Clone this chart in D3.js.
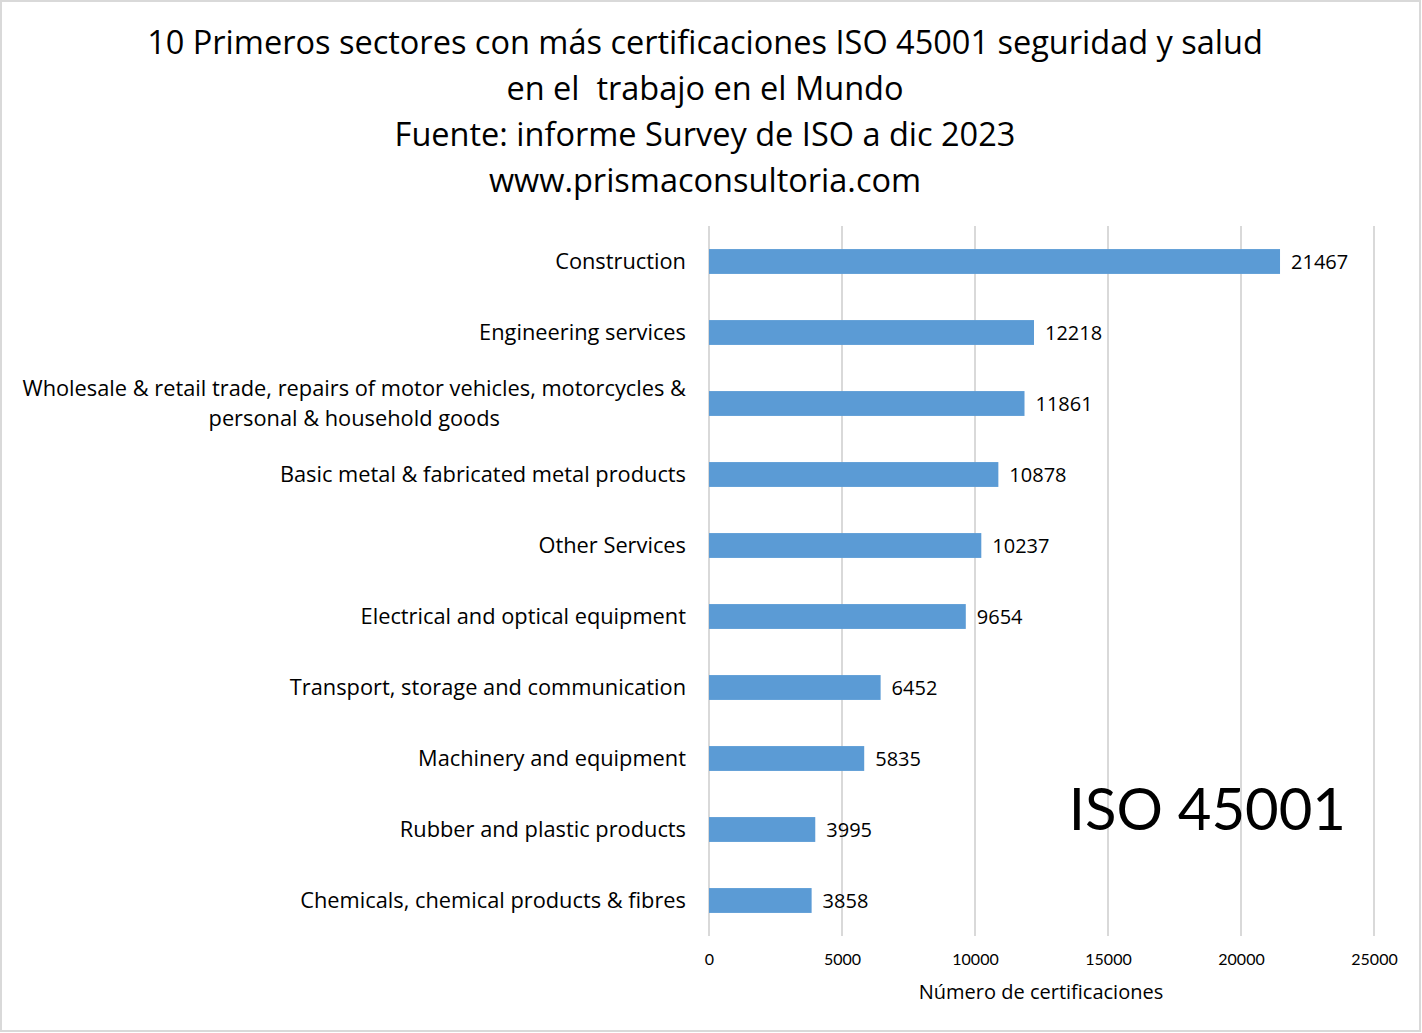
<!DOCTYPE html>
<html>
<head>
<meta charset="utf-8">
<script src="https://cdn.jsdelivr.net/npm/d3@7"></script>
<style>
  body { margin: 0; background: #fff; }
  svg { display: block; font-family: "Open Sans", Lato, sans-serif; }
  .title { white-space: pre; }
</style>
</head>
<body>
<div id="chart"></div>
<script>
// Chart data
var sectors = [
  "Construction",
  "Engineering services",
  "Wholesale & retail trade, repairs of motor vehicles, motorcycles &|personal & household goods",
  "Basic metal & fabricated metal products",
  "Other Services",
  "Electrical and optical equipment",
  "Transport, storage and communication",
  "Machinery and equipment",
  "Rubber and plastic products",
  "Chemicals, chemical products & fibres"
];
var certificates = [21467, 12218, 11861, 10878, 10237, 9654, 6452, 5835, 3995, 3858];
var xTicks = [0, 5000, 10000, 15000, 20000, 25000];
var titleLines = [
  "10 Primeros sectores con más certificaciones ISO 45001 seguridad y salud",
  "en el  trabajo en el Mundo",
  "Fuente: informe Survey de ISO a dic 2023",
  "www.prismaconsultoria.com"
];

var width = 1422, height = 1033;
var margin = {top: 226, right: 48, bottom: 97, left: 709};

var svg = d3.select("#chart").append("svg")
  .attr("width", width)
  .attr("height", height);

// outer border
svg.append("rect")
  .attr("x", 1).attr("y", 1)
  .attr("width", width - 3).attr("height", height - 3)
  .attr("fill", "#fff")
  .attr("stroke", "#d9d9d9")
  .attr("stroke-width", 2);

var x = d3.scaleLinear()
  .domain([0, 25000])
  .range([margin.left, width - margin.right]);

var y = d3.scaleBand()
  .domain(sectors)
  .range([margin.top, height - margin.bottom])
  .paddingInner(0.65)
  .paddingOuter(0.325);

// title
svg.append("g").selectAll("text")
  .data(titleLines)
  .enter().append("text")
  .attr("class", "title")
  .attr("x", 705)
  .attr("y", function(d, i) { return 54 + i * 46; })
  .attr("text-anchor", "middle")
  .attr("font-size", 32.5)
  .attr("fill", "#000")
  .text(function(d) { return d; });

// gridlines
svg.append("g").selectAll("line")
  .data(xTicks)
  .enter().append("line")
  .attr("x1", function(d) { return x(d); })
  .attr("x2", function(d) { return x(d); })
  .attr("y1", margin.top)
  .attr("y2", height - margin.bottom)
  .attr("stroke", "#d9d9d9")
  .attr("stroke-width", 2);

// x axis labels
var xAxis = d3.axisBottom(x)
  .tickValues(xTicks)
  .tickSize(0)
  .tickPadding(18)
  .tickFormat(d3.format("d"));

var gx = svg.append("g")
  .attr("transform", "translate(0," + (height - margin.bottom) + ")")
  .call(xAxis);
gx.select(".domain").remove();
gx.selectAll("text")
  .attr("font-family", "Lato, sans-serif")
  .attr("font-size", 16)
  .attr("fill", "#000");

svg.append("text")
  .attr("x", 1041)
  .attr("y", 999)
  .attr("text-anchor", "middle")
  .attr("font-size", 20)
  .attr("fill", "#000")
  .text("Número de certificaciones");

// bars
svg.append("g").selectAll("rect")
  .data(certificates)
  .enter().append("rect")
  .attr("x", x(0))
  .attr("y", function(d, i) { return y(sectors[i]); })
  .attr("width", function(d) { return x(d) - x(0); })
  .attr("height", y.bandwidth())
  .attr("fill", "#5b9bd5");

// value labels
svg.append("g").selectAll("text")
  .data(certificates)
  .enter().append("text")
  .attr("x", function(d) { return x(d) + 11; })
  .attr("y", function(d, i) { return y(sectors[i]) + y.bandwidth() / 2 + 7; })
  .attr("font-size", 20)
  .attr("fill", "#000")
  .text(function(d) { return d; });

// category labels (wrapped labels are centred under their first line)
var labelRight = 686;
sectors.forEach(function(s, i) {
  var lines = s.split("|");
  var cy = y(s) + y.bandwidth() / 2;
  var g = svg.append("g");
  var t = g.append("text")
    .attr("font-size", 21.8)
    .attr("fill", "#000")
    .attr("text-anchor", "end")
    .attr("x", labelRight)
    .attr("y", cy + 7 - (lines.length - 1) * 15)
    .text(lines[0]);
  if (lines.length > 1) {
    var w = t.node().getComputedTextLength();
    g.append("text")
      .attr("font-size", 21.8)
      .attr("fill", "#000")
      .attr("text-anchor", "middle")
      .attr("x", labelRight - w / 2)
      .attr("y", cy + 7 + 15)
      .text(lines[1]);
  }
});

// watermark label
svg.append("text")
  .attr("x", 1346)
  .attr("y", 830)
  .attr("text-anchor", "end")
  .attr("font-family", "Lato, sans-serif")
  .attr("font-size", 58)
  .attr("fill", "#000")
  .text("ISO 45001");
</script>
</body>
</html>
